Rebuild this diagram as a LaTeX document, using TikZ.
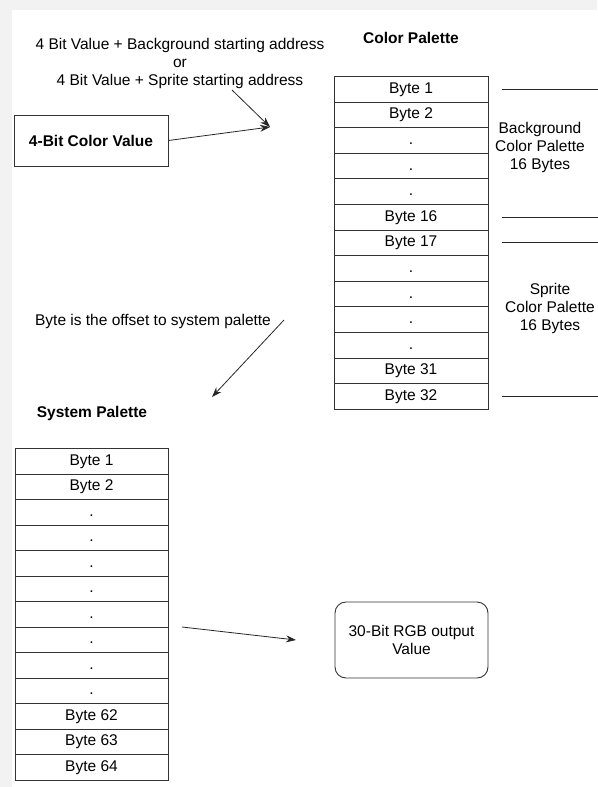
\documentclass[tikz,border=0pt]{standalone}
\usepackage{fontspec}
\setmainfont{Liberation Sans}
\usetikzlibrary{arrows.meta}
\begin{document}
\begin{tikzpicture}[x=1pt,y=-1pt,
  txt/.style={font=\fontsize{15.5}{18}\selectfont, inner sep=0pt, align=center},
  btxt/.style={font=\fontsize{15.5}{18}\selectfont\bfseries, inner sep=0pt, align=center},
  cell/.style={draw=black!80, line width=0.9pt, minimum width=154pt, minimum height=25.6pt,
    inner sep=0pt, text height=11pt, text depth=3pt, font=\fontsize{15.5}{18}\selectfont, anchor=north},
  conn/.style={draw=black!85, line width=0.8pt},
  arr/.style={conn, -{Stealth[length=10pt,width=7pt]}},
  boxnode/.style={draw=black!80, line width=0.9pt, align=center, font=\fontsize{15.5}{18}\selectfont},
]
\useasboundingbox (0,0) rectangle (597,787);
\fill[black!5] (0,0) rectangle (597,10);
\fill[black!5] (0,0) rectangle (12,787);

% top text and 4-bit box
\node[txt] (addr) at (180,63) {4 Bit Value + Background starting address\\or\\4 Bit Value + Sprite starting address};
\node[boxnode, minimum width=154pt, minimum height=51pt, font=\fontsize{15.5}{18}\selectfont\bfseries] (cv) at (91,140.5) {4-Bit Color Value};
\coordinate (m) at (270,127);
\coordinate (s1) at (232,90);
\draw[arr] (cv.east) -- (m);
\draw[arr] (s1) -- (m);

% color palette
\node[btxt] (cpt) at (411,38) {Color Palette};
\foreach \t [count=\i] in {Byte 1, Byte 2, ., ., ., Byte 16, Byte 17, ., ., ., ., Byte 31, Byte 32}
  \node[cell] (cp\i) at (411, {76+25.6*(\i-1)}) {\t};
\foreach \i in {1,6,7,13}
  \draw[conn] ([xshift=14pt]cp\i.east) -- ([xshift=112pt]cp\i.east);
\node[txt] (bglab) at (540,147) {Background\\Color Palette\\16 Bytes};
\node[txt] (splab) at (550,308) {Sprite\\Color Palette\\16 Bytes};

% offset text
\node[txt] (off) at (153,321) {Byte is the offset to system palette};
\coordinate (o1) at (284,320);
\coordinate (o2) at (212,397);
\draw[arr] (o1) -- (o2);

% system palette
\node[btxt] (spt) at (92,413) {System Palette};
\foreach \t [count=\i] in {Byte 1, Byte 2, ., ., ., ., ., ., ., ., Byte 62, Byte 63, Byte 64}
  \node[cell, minimum width=153pt, minimum height=25.5pt] (sp\i) at (91.5, {448+25.5*(\i-1)}) {\t};

% output
\node[boxnode, rounded corners=11pt, minimum width=153pt, minimum height=76pt] (out) at (411.5,640) {30-Bit RGB output\\Value};
\coordinate (a1) at (182,627);
\coordinate (a2) at (296,640);
\draw[arr] (a1) -- (a2);
\end{tikzpicture}
\end{document}
